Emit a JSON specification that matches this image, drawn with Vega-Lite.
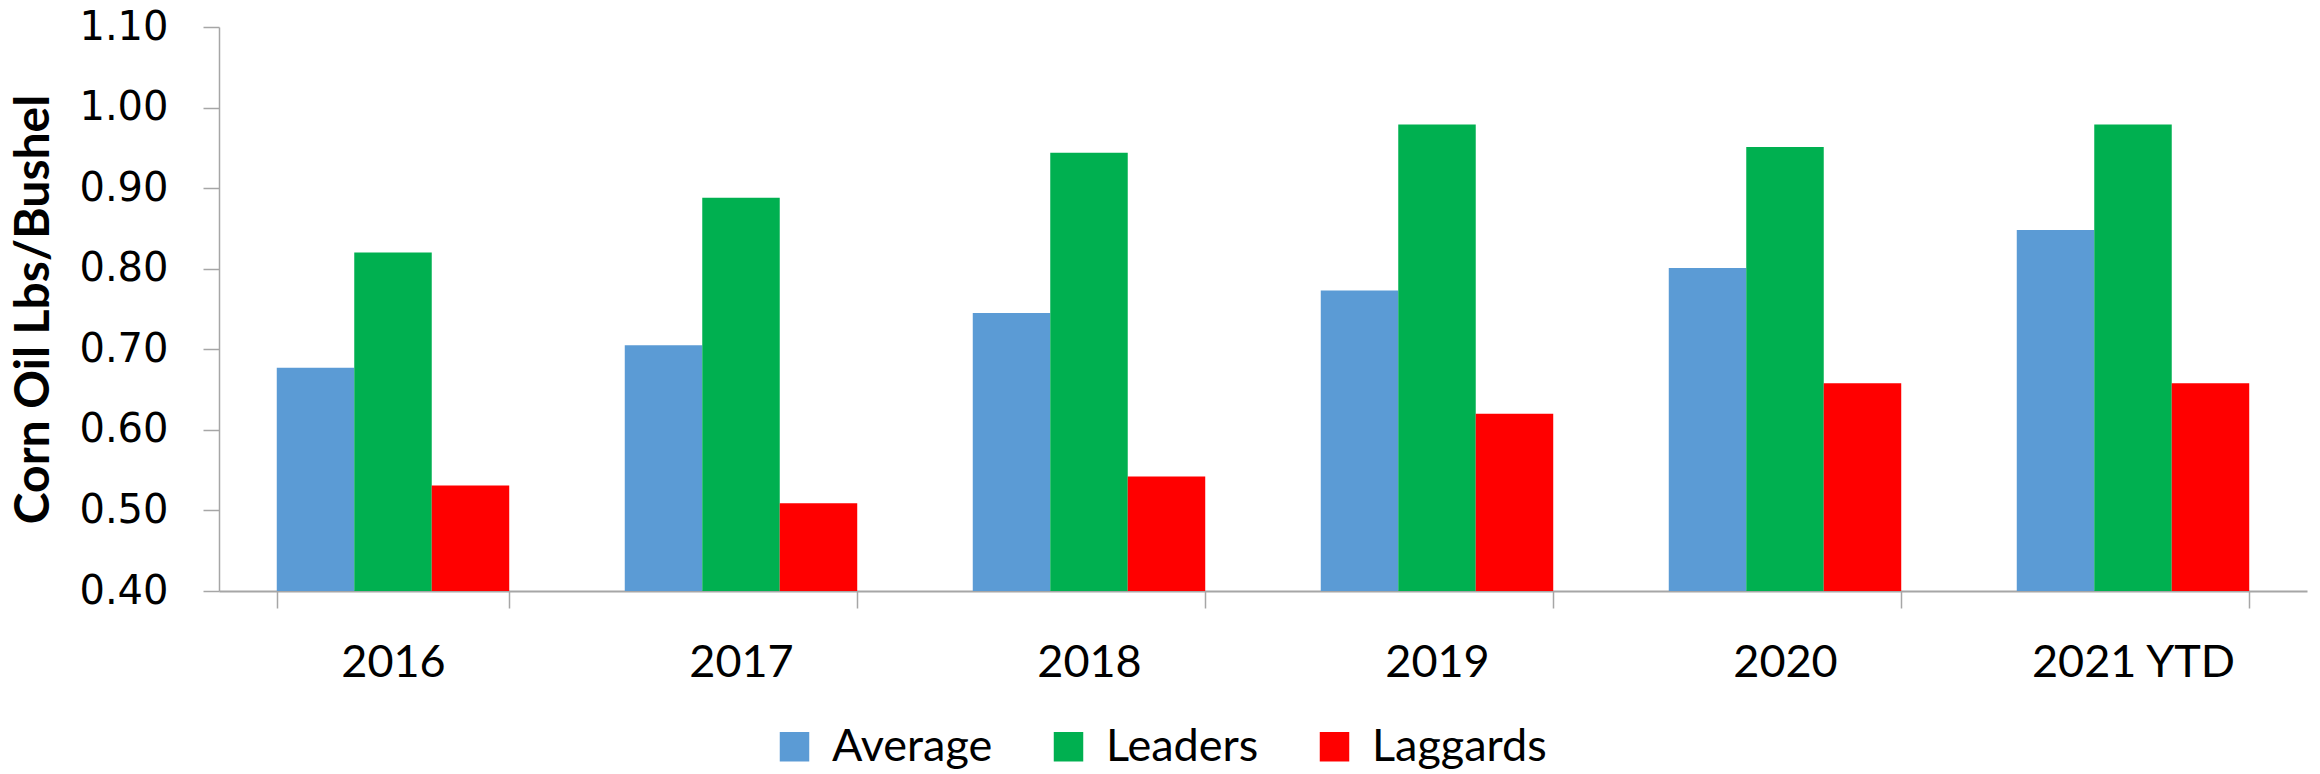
{
  "$schema": "https://vega.github.io/schema/vega-lite/v6.json",
  "width": 2088,
  "height": 564,
  "autosize": {"type": "none"},
  "padding": {"left": 219, "top": 27, "right": 13, "bottom": 183},
  "background": "white",
  "data": {
    "values": [
      {"year": "2016", "group": "Average", "value": 0.677},
      {"year": "2016", "group": "Leaders", "value": 0.820},
      {"year": "2016", "group": "Laggards", "value": 0.531},
      {"year": "2017", "group": "Average", "value": 0.705},
      {"year": "2017", "group": "Leaders", "value": 0.888},
      {"year": "2017", "group": "Laggards", "value": 0.509},
      {"year": "2018", "group": "Average", "value": 0.745},
      {"year": "2018", "group": "Leaders", "value": 0.944},
      {"year": "2018", "group": "Laggards", "value": 0.542},
      {"year": "2019", "group": "Average", "value": 0.773},
      {"year": "2019", "group": "Leaders", "value": 0.979},
      {"year": "2019", "group": "Laggards", "value": 0.620},
      {"year": "2020", "group": "Average", "value": 0.801},
      {"year": "2020", "group": "Leaders", "value": 0.951},
      {"year": "2020", "group": "Laggards", "value": 0.658},
      {"year": "2021 YTD", "group": "Average", "value": 0.848},
      {"year": "2021 YTD", "group": "Leaders", "value": 0.979},
      {"year": "2021 YTD", "group": "Laggards", "value": 0.658}
    ]
  },
  "mark": {"type": "bar", "clip": true},
  "encoding": {
    "x": {
      "field": "year",
      "type": "nominal",
      "sort": null,
      "scale": {"paddingInner": 0.332, "paddingOuter": 0.166},
      "axis": {
        "title": null,
        "labelAngle": 0,
        "labelFont": "Lato",
        "labelFontSize": 45,
        "labelColor": "#000000",
        "labelBaseline": "alphabetic",
        "labelPadding": 68,
        "labelLimit": 0,
        "tickBand": "extent",
        "tickSize": 17,
        "tickColor": "#A6A6A6",
        "tickWidth": 1.5,
        "domainColor": "#A6A6A6",
        "domainWidth": 2,
        "grid": false
      }
    },
    "xOffset": {
      "field": "group",
      "type": "nominal",
      "sort": ["Average", "Leaders", "Laggards"],
      "scale": {"paddingInner": 0, "paddingOuter": 0}
    },
    "y": {
      "field": "value",
      "type": "quantitative",
      "scale": {"domain": [0.4, 1.1], "zero": false, "nice": false},
      "axis": {
        "title": "Corn Oil Lbs/Bushel",
        "titleFont": "Lato",
        "titleFontSize": 48,
        "titleFontWeight": "bold",
        "titleColor": "#000000",
        "titlePadding": 20,
        "titleLimit": 0,
        "values": [0.4, 0.5, 0.6, 0.7, 0.8, 0.9, 1.0, 1.1],
        "format": ".2f",
        "labelFont": "DejaVu Sans",
        "labelFontSize": 40,
        "labelColor": "#000000",
        "labelPadding": 35,
        "labelLimit": 0,
        "tickSize": 16,
        "tickColor": "#A6A6A6",
        "tickWidth": 1.5,
        "domainColor": "#A6A6A6",
        "domainWidth": 1.5,
        "grid": false
      }
    },
    "y2": {"datum": 0.4},
    "color": {
      "field": "group",
      "type": "nominal",
      "scale": {
        "domain": ["Average", "Leaders", "Laggards"],
        "range": ["#5B9BD5", "#00B050", "#FF0000"]
      },
      "legend": {
        "title": null,
        "orient": "none",
        "direction": "horizontal",
        "legendX": 553,
        "legendY": 697,
        "padding": 0,
        "symbolType": "square",
        "symbolSize": 870,
        "symbolStrokeWidth": 0,
        "symbolOpacity": 1,
        "labelFont": "Lato",
        "labelFontSize": 45,
        "labelColor": "#000000",
        "labelOffset": 15,
        "labelLimit": 0,
        "columnPadding": 53
      }
    }
  },
  "config": {"view": {"stroke": null}}
}
